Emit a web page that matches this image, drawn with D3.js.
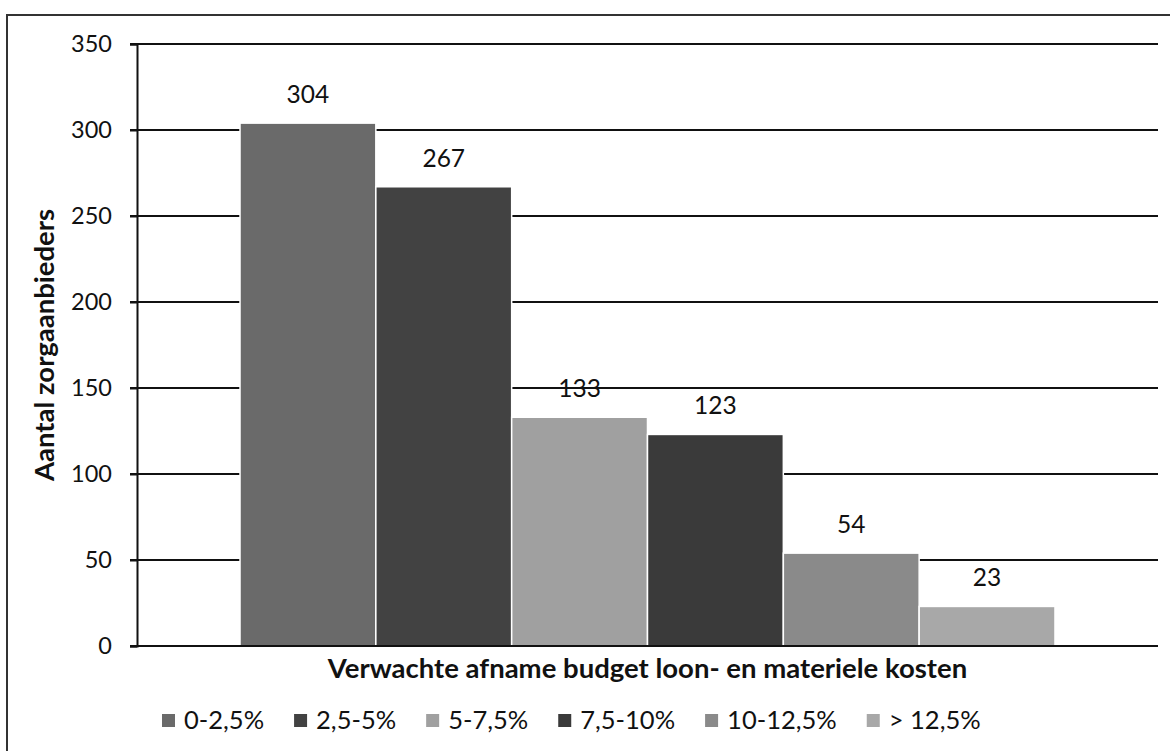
<!DOCTYPE html>
<html><head><meta charset="utf-8">
<script src="https://cdn.jsdelivr.net/npm/d3@7"></script>
<style>
html,body{margin:0;padding:0;background:#fff;}
svg{display:block;}
text{font-family:Lato,"Noto Sans",sans-serif;fill:#111;}
</style></head>
<body>
<svg id="chart" width="1170" height="751"></svg>
<script>
const category = ["Verwachte afname budget loon- en materiele kosten"];
const seriesNames = ["0-2,5%", "2,5-5%", "5-7,5%", "7,5-10%", "10-12,5%", "> 12,5%"];
const seriesValues = [304, 267, 133, 123, 54, 23];
const seriesColors = ["#6a6a6a", "#424242", "#a0a0a0", "#3a3a3a", "#8a8a8a", "#a8a8a8"];
const yTicks = [0, 50, 100, 150, 200, 250, 300, 350];
const yTitle = "Aantal zorgaanbieders";

const svg = d3.select("#chart");

// outer border
svg.append("rect").attr("x", 7).attr("y", 15).attr("width", 1200).attr("height", 800)
  .attr("fill", "none").attr("stroke", "#333").attr("stroke-width", 2);

const m = {left: 137, right: 1158, top: 44, bottom: 646};
const y = d3.scaleLinear().domain([0, 350]).range([m.bottom, m.top]);
const x0 = d3.scaleBand().domain(category).range([m.left, m.right]).paddingInner(0).paddingOuter(0.1264);
const x1 = d3.scaleBand().domain(seriesNames).range([0, x0.bandwidth()]).padding(0);

// gridlines
svg.append("g").selectAll("line").data(yTicks.filter(d => d > 0)).join("line")
  .attr("x1", m.left - 7).attr("x2", m.right)
  .attr("y1", d => y(d)).attr("y2", d => y(d))
  .attr("stroke", "#111").attr("stroke-width", 2);

// bars
const g = svg.append("g").attr("transform", `translate(${x0(category[0])},0)`);
g.selectAll("rect").data(seriesValues).join("rect")
  .attr("x", (d, i) => x1(seriesNames[i]))
  .attr("y", d => y(d))
  .attr("width", x1.bandwidth())
  .attr("height", d => y(0) - y(d))
  .attr("fill", (d, i) => seriesColors[i])
  .attr("stroke", "#fff").attr("stroke-width", 1.5);

// data labels
g.selectAll("text").data(seriesValues).join("text")
  .attr("x", (d, i) => x1(seriesNames[i]) + x1.bandwidth() / 2)
  .attr("y", d => y(d) - 20)
  .attr("text-anchor", "middle").attr("font-size", 24.5)
  .text(d => d);

// y axis
const yAxis = d3.axisLeft(y).tickValues(yTicks).tickSize(7).tickPadding(18);
const ya = svg.append("g").attr("transform", `translate(${m.left},0)`).call(yAxis);
ya.select(".domain").attr("stroke", "#111").attr("stroke-width", 2);
ya.selectAll(".tick line").attr("stroke", "#111").attr("stroke-width", 2);
ya.selectAll(".tick text").attr("font-size", 23.5).attr("font-family", "Lato,sans-serif").attr("fill", "#111");

// x axis baseline
svg.append("line").attr("x1", m.left - 7).attr("x2", m.right)
  .attr("y1", y(0)).attr("y2", y(0)).attr("stroke", "#111").attr("stroke-width", 2);

// y title
svg.append("text").attr("transform", `translate(54,${(m.top + m.bottom) / 2}) rotate(-90)`)
  .attr("text-anchor", "middle").attr("font-size", 27.5).attr("font-weight", "bold")
  .text(yTitle);

// x title
svg.append("text").attr("x", (m.left + m.right) / 2).attr("y", 678)
  .attr("text-anchor", "middle").attr("font-size", 27.5).attr("font-weight", "bold")
  .text(category[0]);

// legend
const leg = svg.append("g").attr("transform", "translate(162,720)");
let cx = 0;
seriesNames.forEach((name, i) => {
  const it = leg.append("g").attr("transform", `translate(${cx},0)`);
  it.append("rect").attr("x", 0).attr("y", -6).attr("width", 13).attr("height", 13)
    .attr("fill", seriesColors[i]);
  const t = it.append("text").attr("x", 22).attr("y", 9).attr("font-size", 25.5).text(name);
  cx += 22 + t.node().getComputedTextLength() + 30;
});
</script>
</body></html>
